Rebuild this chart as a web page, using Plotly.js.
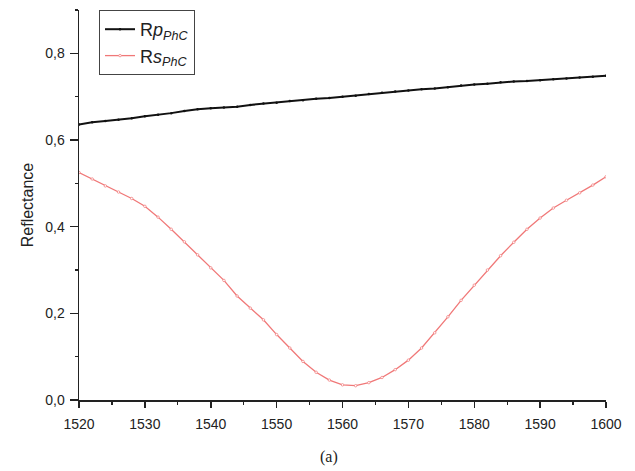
<!DOCTYPE html>
<html>
<head>
<meta charset="utf-8">
<script src="https://cdn.plot.ly/plotly-3.0.1.min.js"></script>
<style>html,body{margin:0;padding:0;background:#fff;}#chart{width:635px;height:471px;}</style>
</head>
<body>
<div id="chart"></div>
<script>
var wavelength = [1520,1522,1524,1526,1528,1530,1532,1534,1536,1538,1540,1542,1544,1546,1548,1550,1552,1554,1556,1558,1560,1562,1564,1566,1568,1570,1572,1574,1576,1578,1580,1582,1584,1586,1588,1590,1592,1594,1596,1598,1600];
var rpPhC = [0.636,0.641,0.644,0.647,0.650,0.655,0.658,0.662,0.667,0.671,0.673,0.675,0.677,0.681,0.684,0.686,0.690,0.692,0.695,0.697,0.700,0.702,0.706,0.709,0.712,0.714,0.717,0.719,0.722,0.726,0.728,0.730,0.733,0.735,0.736,0.738,0.740,0.742,0.744,0.746,0.748];
var rsPhC = [0.525,0.510,0.494,0.480,0.465,0.447,0.422,0.394,0.365,0.335,0.305,0.276,0.240,0.212,0.185,0.151,0.120,0.089,0.064,0.046,0.035,0.033,0.040,0.052,0.070,0.092,0.120,0.155,0.192,0.230,0.265,0.300,0.333,0.364,0.394,0.420,0.443,0.461,0.478,0.496,0.515];
var seriesNames = ['R<i>p</i><sub><i>PhC</i></sub>', 'R<i>s</i><sub><i>PhC</i></sub>'];
var yTitle = 'Reflectance';
var caption = '(a)';

var traces = [
  {x: wavelength, y: rpPhC, name: seriesNames[0], type: 'scatter', mode: 'lines+markers',
   line: {color: '#111111', width: 2}, marker: {color: '#111111', size: 2.5}},
  {x: wavelength, y: rsPhC, name: seriesNames[1], type: 'scatter', mode: 'lines+markers',
   line: {color: '#f07878', width: 1.3}, marker: {color: '#ffffff', size: 2.5, line: {color: '#f07878', width: 0.7}}}
];

var layout = {
  width: 635, height: 471,
  margin: {l: 79, r: 29, t: 10, b: 71},
  paper_bgcolor: '#fff', plot_bgcolor: '#fff',
  separators: ',.',
  font: {family: 'Liberation Sans, Arial, sans-serif', size: 14, color: '#222'},
  showlegend: true,
  legend: {x: 0.038, y: 1.0, xanchor: 'left', yanchor: 'top', bordercolor: '#444', borderwidth: 1,
           bgcolor: '#fff', font: {size: 18, color: '#222'}, tracegroupgap: 2},
  xaxis: {range: [1520, 1600], dtick: 10, tick0: 1520, showgrid: false, zeroline: false,
          showline: true, linecolor: '#222', linewidth: 1.5, ticks: 'outside', ticklen: 6, tickwidth: 1.5, tickcolor: '#222',
          ticklabelstandoff: 5,
          minor: {dtick: 5, ticks: 'outside', ticklen: 3, tickwidth: 1.3, tickcolor: '#222'},
          tickfont: {size: 14}},
  yaxis: {range: [0, 0.9], dtick: 0.2, tick0: 0, tickformat: '.1f', showgrid: false, zeroline: false,
          showline: true, linecolor: '#222', linewidth: 1.5, ticks: 'outside', ticklen: 8, tickwidth: 1.5, tickcolor: '#222',
          ticklabelstandoff: 2,
          minor: {dtick: 0.1, ticks: 'outside', ticklen: 3, tickwidth: 1.3, tickcolor: '#222'},
          tickfont: {size: 14},
          title: {text: yTitle, font: {size: 16}, standoff: 7}},
  annotations: [
    {text: caption, xref: 'paper', yref: 'paper', x: 0.475, y: -0.146, xanchor: 'center', yanchor: 'middle',
     showarrow: false, font: {family: 'Liberation Serif, DejaVu Serif, serif', size: 16, color: '#222'}}
  ]
};

Plotly.newPlot('chart', traces, layout, {displayModeBar: false, staticPlot: true});
</script>
</body>
</html>
